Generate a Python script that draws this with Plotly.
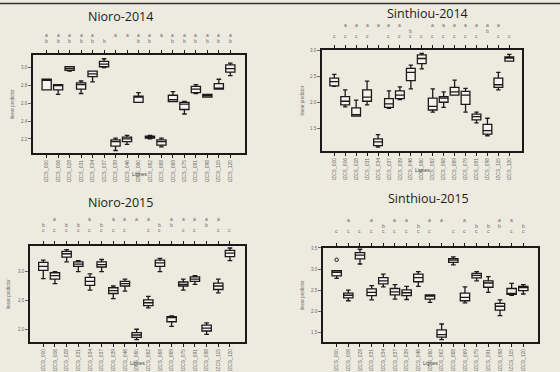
import plotly.graph_objects as go

# Breeding lines (same 17 lines at each site/year)
lines = ["IZCS_000", "IZCS_006", "IZCS_028", "IZCS_031", "IZCS_034", "IZCS_037",
         "IZCS_039", "IZCS_046", "IZCS_060", "IZCS_062", "IZCS_068", "IZCS_069",
         "IZCS_075", "IZCS_091", "IZCS_098", "IZCS_115", "IZCS_120"]

# ---- Nioro-2014 ----
n14_low = [2.75, 2.70, 2.96, 2.71, 2.84, 3.00, 2.07, 2.14, 2.61, 2.20, 2.11, 2.62, 2.48, 2.71, 2.67, 2.76, 2.91]
n14_q1 = [2.75, 2.75, 2.97, 2.76, 2.90, 3.01, 2.12, 2.17, 2.61, 2.21, 2.13, 2.62, 2.53, 2.72, 2.67, 2.76, 2.95]
n14_med = [2.86, 2.80, 2.99, 2.81, 2.93, 3.04, 2.17, 2.20, 2.67, 2.22, 2.17, 2.64, 2.59, 2.76, 2.685, 2.77, 2.99]
n14_q3 = [2.87, 2.81, 3.01, 2.83, 2.96, 3.07, 2.19, 2.22, 2.68, 2.23, 2.19, 2.69, 2.61, 2.79, 2.70, 2.82, 3.03]
n14_up = [2.87, 2.81, 3.01, 2.85, 2.96, 3.10, 2.21, 2.24, 2.72, 2.24, 2.21, 2.73, 2.62, 2.81, 2.70, 2.87, 3.05]
n14_letters = ["ab", "ab", "ab", "ab", "ab", "b", "a", "a", "ab", "ab", "a", "ab", "ab", "ab", "ab", "ab", "ab"]

# ---- Sinthiou-2014 ----
s14_low = [2.31, 1.91, 1.73, 1.95, 1.13, 1.88, 2.05, 2.26, 2.65, 1.81, 1.90, 2.14, 1.81, 1.60, 1.35, 2.24, 2.80]
s14_q1 = [2.32, 1.95, 1.73, 2.02, 1.16, 1.90, 2.07, 2.42, 2.75, 1.85, 2.00, 2.14, 1.96, 1.66, 1.38, 2.29, 2.80]
s14_med = [2.40, 2.02, 1.76, 2.10, 1.23, 1.97, 2.14, 2.58, 2.85, 1.92, 2.08, 2.20, 2.14, 1.72, 1.45, 2.34, 2.86]
s14_q3 = [2.47, 2.11, 1.89, 2.24, 1.29, 2.07, 2.22, 2.66, 2.92, 2.08, 2.11, 2.29, 2.21, 1.77, 1.57, 2.47, 2.88]
s14_up = [2.54, 2.24, 2.04, 2.41, 1.37, 2.22, 2.30, 2.72, 2.95, 2.26, 2.20, 2.43, 2.27, 1.81, 1.69, 2.58, 2.93]
s14_letters = ["c", "ac", "ac", "ac", "a", "ac", "ac", "bc", "c", "ac", "ac", "ac", "ac", "ac", "ab", "ac", "c"]

# ---- Nioro-2015 ----
n15_low = [2.88, 2.79, 3.17, 3.00, 2.68, 3.00, 2.53, 2.66, 1.82, 2.37, 3.00, 2.05, 2.68, 2.78, 1.91, 2.63, 3.19]
n15_q1 = [3.02, 2.87, 3.25, 3.09, 2.76, 3.08, 2.62, 2.75, 1.86, 2.41, 3.09, 2.13, 2.75, 2.83, 1.97, 2.69, 3.26]
n15_med = [3.09, 2.93, 3.31, 3.13, 2.83, 3.12, 2.67, 2.79, 1.90, 2.46, 3.15, 2.20, 2.78, 2.87, 2.02, 2.75, 3.32]
n15_q3 = [3.16, 2.98, 3.35, 3.17, 2.90, 3.17, 2.72, 2.83, 1.94, 2.51, 3.20, 2.22, 2.82, 2.91, 2.07, 2.80, 3.37]
n15_up = [3.20, 3.00, 3.38, 3.19, 2.96, 3.21, 2.75, 2.87, 2.00, 2.57, 3.23, 2.23, 2.87, 2.93, 2.11, 2.87, 3.41]
n15_letters = ["bc", "ac", "bc", "bc", "ac", "bc", "ac", "ac", "a", "ac", "bc", "ab", "ac", "ac", "ab", "ac", "c"]

# ---- Sinthiou-2015 ----
s15_low = [2.78, 2.25, 3.12, 2.27, 2.58, 2.29, 2.28, 2.59, 2.21, 1.33, 3.10, 2.20, 2.72, 2.45, 1.90, 2.38, 2.41]
s15_q1 = [2.84, 2.32, 3.24, 2.37, 2.65, 2.39, 2.37, 2.70, 2.29, 1.39, 3.16, 2.25, 2.79, 2.57, 2.03, 2.40, 2.49]
s15_med = [2.92, 2.38, 3.33, 2.45, 2.72, 2.46, 2.44, 2.80, 2.36, 1.45, 3.21, 2.33, 2.85, 2.67, 2.12, 2.41, 2.56]
s15_q3 = [2.96, 2.43, 3.39, 2.53, 2.80, 2.54, 2.51, 2.88, 2.39, 1.56, 3.25, 2.43, 2.90, 2.72, 2.19, 2.54, 2.59]
s15_up = [2.96, 2.50, 3.47, 2.61, 2.88, 2.63, 2.59, 2.94, 2.39, 1.70, 3.29, 2.58, 2.94, 2.82, 2.27, 2.66, 2.63]
s15_letters = ["c", "ac", "c", "ac", "bc", "ac", "ac", "bc", "ac", "a", "c", "ac", "bc", "bc", "ab", "ac", "bc"]
s15_outlier_line = [0]
s15_outlier_val = [3.22]

W, H = 560, 372
BG = "#EDEADF"
INK = "#1a1a1a"
GREY = "#6a6a6a"


def px(xl, xr):
    return [xl / W, xr / W]


def py(yt, yb):
    return [1 - yb / H, 1 - yt / H]


# panel geometry: pixel box, x range, y range, y ticks, title pos, letter rows
panels = [
    dict(name="Nioro-2014", low=n14_low, q1=n14_q1, med=n14_med, q3=n14_q3, up=n14_up,
         letters=n14_letters, box=(33, 245, 53, 152), xr=[-1.19, 17.28], yr=[2.04, 3.145],
         yt=[2.2, 2.4, 2.6, 2.8, 3.0], title=(120, 15), rows=(33.5, 39.0, 44.5),
         ytitle_x=13, xtitle_y=173),
    dict(name="Sinthiou-2014", low=s14_low, q1=s14_q1, med=s14_med, q3=s14_q3, up=s14_up,
         letters=s14_letters, box=(322, 522, 48, 150), xr=[-1.12, 17.16], yr=[1.05, 3.02],
         yt=[1.5, 2.0, 2.5, 3.0], title=(427, 12), rows=(23.5, 28.8, 34.2),
         ytitle_x=302, xtitle_y=169),
    dict(name="Nioro-2015", low=n15_low, q1=n15_q1, med=n15_med, q3=n15_q3, up=n15_up,
         letters=n15_letters, box=(30, 245, 245, 342), xr=[-1.14, 17.29], yr=[1.776, 3.45],
         yt=[2.0, 2.5, 3.0], title=(120, 202), rows=(218.5, 224.0, 229.5),
         ytitle_x=9, xtitle_y=363),
    dict(name="Sinthiou-2015", low=s15_low, q1=s15_q1, med=s15_med, q3=s15_q3, up=s15_up,
         letters=s15_letters, box=(323, 538, 247, 342), xr=[-1.17, 17.26], yr=[1.27, 3.507],
         yt=[1.5, 2.0, 2.5, 3.0, 3.5], title=(428, 198), rows=(219.5, 224.8, 230.2),
         ytitle_x=303, xtitle_y=363),
]

fig = go.Figure()
annotations = []
pos = list(range(len(lines)))

for i, p in enumerate(panels, start=1):
    sx = "" if i == 1 else str(i)
    xl, xr_, yt_, yb = p["box"]
    fig.add_trace(go.Box(
        x=pos, q1=p["q1"], median=p["med"], q3=p["q3"],
        lowerfence=p["low"], upperfence=p["up"],
        width=0.8, whiskerwidth=0.5,
        line=dict(color=INK, width=1.3),
        fillcolor="rgba(255,255,255,0.45)",
        boxpoints=False, showlegend=False, hoverinfo="skip",
        xaxis="x" + sx, yaxis="y" + sx,
    ))
    fig.layout["xaxis" + sx] = dict(
        domain=px(xl, xr_), anchor="y" + sx, range=p["xr"],
        tickmode="array", tickvals=pos, ticktext=lines, tickangle=-90,
        tickfont=dict(size=5, color=GREY, family="Liberation Sans"),
        ticks="outside", ticklen=3, tickwidth=1, tickcolor=INK,
        showline=True, linecolor=INK, linewidth=1.5, mirror="ticks",
        showgrid=False, zeroline=False, fixedrange=True,
    )
    fig.layout["yaxis" + sx] = dict(
        domain=py(yt_, yb), anchor="x" + sx, range=p["yr"],
        tickmode="array", tickvals=p["yt"], ticktext=["%.1f" % v for v in p["yt"]],
        tickfont=dict(size=4.5, color=GREY, family="Liberation Sans"),
        ticks="outside", ticklen=3, tickwidth=1, tickcolor=GREY,
        showline=True, linecolor=INK, linewidth=1.5, mirror=True,
        showgrid=False, zeroline=False, fixedrange=True,
    )
    # panel title
    tx, ty = p["title"]
    annotations.append(dict(text=p["name"], xref="paper", yref="paper",
                            x=tx / W, y=1 - ty / H, showarrow=False,
                            xanchor="center", yanchor="middle",
                            font=dict(size=12.5, color="#1c1c1c", family="Open Sans")))
    # axis titles
    annotations.append(dict(text="linear predictor", xref="paper", yref="paper",
                            x=p["ytitle_x"] / W, y=1 - (yt_ + yb) / 2 / H, textangle=-90,
                            showarrow=False, xanchor="center", yanchor="middle",
                            font=dict(size=4.5, color=GREY, family="Liberation Sans")))
    annotations.append(dict(text="Lignes", xref="paper", yref="paper",
                            x=(xl + xr_) / 2 / W, y=1 - p["xtitle_y"] / H,
                            showarrow=False, xanchor="center", yanchor="middle",
                            font=dict(size=5, color="#444", family="Liberation Sans")))
    # significance letters above each line
    for k, grp in enumerate(p["letters"]):
        for ch in grp:
            row = "abc".index(ch)
            annotations.append(dict(text=ch, xref="x" + sx, yref="paper",
                                    x=k, y=1 - p["rows"][row] / H, showarrow=False,
                                    xanchor="center", yanchor="middle",
                                    font=dict(size=5, color=GREY, family="Liberation Sans")))

# outlying observation
fig.add_trace(go.Scatter(x=s15_outlier_line, y=s15_outlier_val, mode="markers",
                         marker=dict(size=3.5, color="rgba(0,0,0,0)",
                                     line=dict(color=INK, width=1)),
                         xaxis="x4", yaxis="y4", showlegend=False, hoverinfo="skip"))

fig.update_layout(
    width=W, height=H, autosize=False,
    margin=dict(l=0, r=0, t=0, b=0),
    paper_bgcolor=BG, plot_bgcolor=BG,
    annotations=annotations,
    shapes=[dict(type="line", xref="paper", yref="paper", x0=0, x1=1,
                 y0=1 - 1.5 / H, y1=1 - 1.5 / H, line=dict(color="#333", width=1.5))],
)

fig.write_html("out.html")
